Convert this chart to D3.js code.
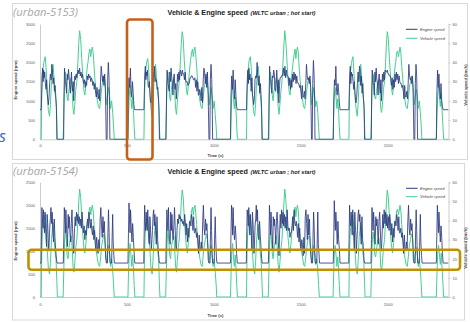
<!DOCTYPE html>
<html><head><meta charset="utf-8">
<script src="https://cdn.jsdelivr.net/npm/d3@7"></script>
<style>html,body{margin:0;padding:0;background:#fff;}svg{display:block;}</style>
</head><body>
<svg id="c" width="470" height="322"></svg>
<script>
// ---------------- DATA ----------------
const timeTicks = [0, 500, 1000, 1500, 2000];
const engineTicksTop = [0, 500, 1000, 1500, 2000, 2500, 3000];
const engineTicksBottom = [0, 500, 1000, 1500, 2000, 2500];
const speedTicks = [0, 10, 20, 30, 40, 50, 60];
const cycleStart = [0, 590, 1180, 1770]; // s, start of each urban repetition
const seriesNames = ["Engine speed", "Vehicle speed"];

// Vehicle speed (km/h): [time within repetition (s), speed]
const vehicleC1 = [[0,0],[7,0],[10,22],[14,34],[22,40],[30,43],[36,36],[42,24],[48,15],[55,12],[60,18],[66,30],[75,39],[80,33],[86,24],[92,20],[97,8],[100,0],[133,0],[137,14],[141,28],[146,35],[151,30],[156,22],[161,20],[166,25],[173,30],[180,32],[186,24],[190,16],[195,13],[200,18],[206,26],[212,30],[218,40],[223,50],[228,56.5],[234,52],[240,42],[247,32],[253,25],[258,23],[264,28],[270,36],[276,40],[282,45],[287,47],[292,43],[296,46],[301,48],[306,45],[311,38],[317,30],[324,24],[330,20],[336,17],[343,16],[349,21],[355,27],[361,30],[367,33],[373,31],[378,24],[383,18],[388,22],[394,27],[400,23],[406,16],[412,20],[418,14],[423,7],[427,0],[506,0],[509,12],[513,22],[518,28],[523,22],[528,16],[533,22],[538,14],[542,6],[546,0],[590,0]];
const vehicleC2 = [[0,0],[8,0],[11,21],[15,33],[23,40],[30,42],[36,35],[42,25],[48,16],[55,12],[60,19],[66,31],[75,39],[80,32],[86,25],[92,20],[97,7],[100,0],[133,0],[137,15],[141,28],[146,35],[151,29],[156,22],[161,20],[166,26],[173,30],[180,32],[186,23],[190,16],[195,13],[200,19],[206,26],[212,31],[218,41],[223,50],[228,56],[234,52],[240,41],[247,32],[253,25],[258,23],[264,29],[270,36],[276,41],[282,45],[287,47],[292,43],[296,46],[301,48],[306,44],[311,38],[317,30],[324,24],[330,20],[336,17],[343,16],[349,22],[355,27],[361,30],[367,33],[373,30],[378,24],[383,18],[388,22],[394,27],[400,22],[406,16],[412,20],[418,13],[423,7],[427,0],[506,0],[509,12],[513,23],[518,28],[523,21],[528,16],[533,22],[538,14],[542,6],[546,0],[590,0]];
const vehicleC3 = [[0,0],[8,0],[11,22],[15,34],[23,41],[30,43],[36,36],[42,24],[48,15],[55,12],[60,18],[66,30],[75,38],[80,33],[86,24],[92,19],[97,8],[100,0],[133,0],[137,14],[141,27],[146,35],[151,30],[156,23],[161,20],[166,25],[173,29],[180,32],[186,24],[190,17],[195,13],[200,18],[206,25],[212,30],[218,40],[223,49],[228,56.5],[234,51],[240,42],[247,31],[253,25],[258,23],[264,28],[270,35],[276,40],[282,44],[287,47],[292,42],[296,46],[301,48],[306,45],[311,37],[317,30],[324,24],[330,21],[336,17],[343,16],[349,21],[355,26],[361,30],[367,32],[373,31],[378,25],[383,18],[388,21],[394,27],[400,23],[406,17],[412,20],[418,14],[423,6],[427,0],[506,0],[509,11],[513,22],[518,27],[523,22],[528,16],[533,21],[538,14],[542,6],[546,0],[590,0]];
const vehicleC4 = [[0,0],[7,0],[10,21],[14,33],[22,40],[30,43],[36,35],[42,24],[48,16],[55,12],[60,18],[66,31],[75,39],[80,33],[86,24],[92,20],[97,8],[100,0],[133,0],[137,14],[141,28],[146,34],[151,30],[156,22],[161,21],[166,25],[173,30],[180,31],[186,24],[190,16],[195,14],[200,18],[206,26],[212,30],[218,40],[223,50],[228,56],[234,52],[240,42],[247,32],[253,26],[258,23],[264,28],[270,36],[276,40],[282,45],[287,46],[292,43],[296,45],[301,48],[306,45],[311,38],[317,31],[324,24],[330,20],[336,17],[343,16],[349,21],[355,27],[361,30],[367,33],[373,31],[378,24],[383,18],[388,22],[394,26],[400,23],[406,16],[412,20],[418,14],[423,7],[427,0],[510,0],[514,13],[518,23],[523,27],[528,22],[533,17],[538,23],[543,15],[548,7],[552,0],[580,0]];

// Engine speed (rpm), test urban-5153
const engineA1 = [[0,770],[7,770],[9,1100],[12,1650],[15,1850],[18,1500],[21,1800],[24,1600],[27,1750],[31,1450],[35,1300],[38,1550],[41,1200],[45,1050],[48,900],[52,1100],[56,1500],[60,1700],[64,1550],[68,1950],[72,1750],[75,1450],[79,1600],[83,1250],[87,1400],[91,1100],[95,800],[97,0],[136,0],[138,1100],[141,1850],[144,1600],[147,1500],[150,1350],[153,1200],[157,1700],[160,1550],[164,1820],[167,1650],[171,1400],[175,1200],[178,1500],[181,1750],[184,1450],[188,1250],[191,1500],[194,1000],[197,1350],[200,1650],[204,1550],[208,1700],[212,1600],[216,1750],[220,1800],[224,1700],[228,1850],[232,1650],[236,1750],[240,1600],[244,1700],[248,1550],[252,1450],[256,1550],[260,1350],[264,1500],[268,1400],[272,1650],[276,1550],[280,1700],[284,1600],[288,1650],[292,1500],[296,1600],[300,1550],[304,1400],[308,1500],[312,1300],[316,1450],[320,1200],[324,1100],[328,1350],[332,1150],[336,1050],[340,1300],[344,1000],[348,1500],[352,1900],[356,1700],[360,1500],[364,1650],[368,1400],[372,1700],[376,1300],[379,600],[381,0],[386,0],[389,1500],[393,2000],[397,1600],[400,900],[402,0],[505,0],[508,1100],[512,1600],[516,1350],[520,1850],[524,1300],[528,1100],[532,1500],[536,1200],[540,900],[544,770],[590,770]];
const engineA2 = [[0,770],[8,770],[10,1200],[13,1700],[16,1900],[19,1550],[22,1750],[25,1650],[28,1800],[32,1400],[35,1350],[39,1500],[42,1250],[45,1000],[49,950],[53,1150],[57,1450],[61,1750],[65,1500],[69,1900],[72,1700],[76,1500],[80,1550],[84,1300],[88,1350],[92,1050],[95,750],[97,0],[135,0],[138,1200],[141,1800],[144,1650],[147,1450],[151,1300],[154,1250],[157,1750],[161,1500],[164,1850],[168,1600],[171,1450],[175,1150],[178,1550],[182,1700],[185,1400],[188,1300],[191,1450],[194,1050],[198,1300],[201,1700],[205,1500],[209,1750],[213,1550],[217,1800],[221,1750],[225,1650],[229,1800],[233,1700],[237,1700],[241,1550],[245,1750],[249,1500],[253,1500],[257,1500],[261,1400],[265,1450],[269,1450],[273,1600],[277,1600],[281,1650],[285,1650],[289,1600],[293,1550],[297,1550],[301,1600],[305,1350],[309,1550],[313,1250],[317,1500],[321,1150],[325,1150],[329,1300],[333,1200],[337,1000],[341,1350],[345,950],[349,1550],[353,1850],[357,1750],[361,1450],[365,1700],[369,1350],[373,1750],[377,1250],[380,500],[382,0],[387,0],[390,1550],[394,1950],[398,1550],[401,850],[403,0],[506,0],[509,1150],[513,1650],[517,1300],[521,1800],[525,1350],[529,1050],[533,1550],[537,1150],[541,850],[545,770],[590,770]];
const engineA3 = [[0,770],[8,770],[10,1150],[13,1600],[16,1800],[19,1450],[22,1850],[25,1550],[28,1700],[32,1500],[35,1250],[39,1600],[42,1150],[45,1100],[49,900],[53,1050],[57,1550],[61,1650],[65,1600],[69,2000],[72,1700],[76,1400],[80,1650],[84,1200],[88,1450],[92,1100],[95,800],[97,0],[136,0],[138,1150],[141,1900],[144,1550],[147,1550],[151,1300],[154,1200],[157,1650],[161,1600],[164,1800],[168,1700],[171,1350],[175,1250],[178,1450],[182,1800],[185,1500],[188,1200],[191,1550],[194,950],[198,1400],[201,1600],[205,1600],[209,1650],[213,1650],[217,1700],[221,1850],[225,1650],[229,1900],[233,1600],[237,1800],[241,1650],[245,1650],[249,1600],[253,1400],[257,1600],[261,1300],[265,1550],[269,1350],[273,1700],[277,1500],[281,1750],[285,1550],[289,1700],[293,1450],[297,1650],[301,1500],[305,1450],[309,1450],[313,1350],[317,1400],[321,1250],[325,1050],[329,1400],[333,1100],[337,1100],[341,1250],[345,1050],[349,1450],[353,1950],[357,1650],[361,1550],[365,1600],[369,1450],[373,1650],[377,1350],[380,600],[382,0],[386,0],[389,1450],[393,2050],[397,1650],[400,950],[402,0],[507,0],[510,1050],[514,1550],[518,1400],[522,1900],[526,1250],[530,1150],[534,1450],[538,1250],[542,950],[546,770],[590,770]];
const engineA4 = [[0,770],[7,770],[9,1150],[12,1700],[15,1900],[18,1450],[21,1750],[24,1650],[27,1700],[31,1500],[35,1300],[38,1500],[41,1250],[45,1000],[48,950],[52,1100],[56,1450],[60,1750],[64,1500],[68,1900],[72,1800],[75,1400],[79,1650],[83,1200],[87,1450],[91,1050],[95,800],[97,0],[136,0],[138,1150],[141,1800],[144,1650],[147,1450],[150,1400],[153,1150],[157,1750],[160,1500],[164,1850],[167,1600],[171,1450],[175,1150],[178,1550],[181,1700],[184,1500],[188,1200],[191,1550],[194,1000],[197,1300],[200,1700],[204,1500],[208,1750],[212,1550],[216,1800],[220,1750],[224,1750],[228,1800],[232,1700],[236,1700],[240,1650],[244,1650],[248,1600],[252,1400],[256,1600],[260,1300],[264,1550],[268,1350],[272,1700],[276,1500],[280,1750],[284,1550],[288,1700],[292,1450],[296,1650],[300,1500],[304,1450],[308,1450],[312,1350],[316,1400],[320,1250],[324,1050],[328,1400],[332,1100],[336,1100],[340,1250],[344,1050],[348,1450],[352,1950],[356,1650],[360,1550],[364,1600],[368,1450],[372,1650],[376,1350],[379,600],[381,0],[386,0],[389,1450],[393,1950],[397,1650],[400,900],[402,0],[510,0],[513,1150],[517,1800],[521,1350],[525,1700],[529,1250],[533,1050],[537,1450],[541,1000],[545,850],[549,770],[580,770]];

// Engine speed (rpm), test urban-5154
const engineB1 = [[0,740],[6,740],[8,1200],[11,1950],[14,1700],[17,1500],[20,1900],[23,1600],[26,1400],[29,1850],[32,1500],[35,1250],[38,1100],[41,1800],[44,1600],[47,1300],[50,1000],[53,1200],[56,1500],[60,1750],[63,1950],[67,1600],[70,1850],[74,1400],[78,1200],[82,1700],[86,1300],[90,1050],[94,850],[98,740],[134,740],[137,1300],[140,1950],[143,1700],[146,1400],[149,1900],[152,1550],[155,1300],[158,1100],[162,1800],[165,1500],[169,1750],[172,1400],[176,1200],[180,1600],[184,1900],[187,1500],[191,1150],[194,950],[198,1400],[202,1750],[206,1550],[210,1850],[214,1650],[218,1800],[222,1600],[226,1750],[230,1550],[234,1700],[238,1500],[242,1850],[246,1600],[250,1400],[254,1550],[258,1250],[262,1450],[266,1350],[270,1600],[274,1700],[278,1500],[282,1850],[286,1650],[290,1500],[294,1700],[298,1450],[302,1350],[306,1550],[310,1250],[314,1450],[318,1150],[322,1000],[326,1300],[330,1100],[334,950],[338,1250],[342,1000],[346,1700],[350,1950],[354,1550],[358,1300],[362,1750],[366,1400],[370,1650],[374,1200],[378,850],[382,740],[388,740],[391,1400],[394,1900],[397,1500],[400,1000],[403,740],[412,740],[415,1300],[418,1800],[421,1200],[425,900],[428,740],[506,740],[509,1400],[512,2050],[515,1700],[518,1400],[521,1900],[525,1500],[529,1200],[533,1600],[537,1300],[541,1000],[545,740],[590,740]];
const engineB2 = [[0,740],[7,740],[9,1300],[12,2000],[15,1650],[18,1450],[21,1850],[24,1550],[27,1450],[30,1900],[33,1450],[36,1200],[39,1150],[42,1750],[45,1550],[48,1250],[51,1050],[54,1250],[57,1450],[61,1800],[64,1900],[68,1550],[71,1800],[75,1450],[79,1150],[83,1750],[87,1250],[91,1000],[95,800],[98,740],[134,740],[137,1350],[140,1900],[143,1650],[146,1450],[149,1950],[152,1500],[155,1250],[159,1150],[162,1850],[166,1450],[169,1800],[173,1350],[176,1250],[180,1550],[184,1950],[188,1450],[191,1100],[195,1000],[198,1450],[202,1700],[206,1600],[210,1800],[214,1700],[218,1750],[222,1650],[226,1700],[230,1600],[234,1650],[238,1550],[242,1800],[246,1650],[250,1350],[254,1600],[258,1200],[262,1500],[266,1300],[270,1650],[274,1650],[278,1550],[282,1800],[286,1700],[290,1450],[294,1750],[298,1400],[302,1400],[306,1500],[310,1300],[314,1400],[318,1200],[322,950],[326,1350],[330,1050],[334,1000],[338,1200],[342,1050],[346,1650],[350,2000],[354,1500],[358,1350],[362,1700],[366,1450],[370,1600],[374,1250],[378,800],[382,740],[388,740],[391,1450],[394,1950],[397,1450],[400,950],[403,740],[412,740],[415,1350],[418,1750],[421,1250],[425,850],[428,740],[506,740],[509,1450],[512,2000],[515,1750],[518,1350],[521,1950],[525,1450],[529,1250],[533,1550],[537,1350],[541,950],[545,740],[590,740]];
const engineB3 = [[0,740],[7,740],[9,1250],[12,1900],[15,1750],[18,1550],[21,1950],[24,1650],[27,1350],[30,1800],[33,1550],[36,1300],[39,1050],[42,1850],[45,1650],[48,1350],[51,950],[54,1150],[57,1550],[61,1700],[64,2000],[68,1650],[71,1900],[75,1350],[79,1250],[83,1650],[87,1350],[91,1100],[95,850],[98,740],[134,740],[137,1250],[140,2000],[143,1750],[146,1350],[149,1850],[152,1600],[155,1350],[159,1050],[162,1750],[166,1550],[169,1700],[173,1450],[176,1150],[180,1650],[184,1850],[188,1550],[191,1200],[195,900],[198,1350],[202,1800],[206,1500],[210,1900],[214,1600],[218,1850],[222,1550],[226,1800],[230,1500],[234,1750],[238,1450],[242,1900],[246,1550],[250,1450],[254,1500],[258,1300],[262,1400],[266,1400],[270,1550],[274,1750],[278,1450],[282,1900],[286,1600],[290,1550],[294,1650],[298,1500],[302,1300],[306,1600],[310,1200],[314,1500],[318,1100],[322,1050],[326,1250],[330,1150],[334,900],[338,1300],[342,950],[346,1750],[350,1900],[354,1600],[358,1250],[362,1800],[366,1350],[370,1700],[374,1150],[378,900],[382,740],[388,740],[391,1350],[394,1850],[397,1550],[400,1050],[403,740],[412,740],[415,1250],[418,1850],[421,1150],[425,950],[428,740],[507,740],[510,1350],[513,2100],[516,1650],[519,1450],[522,1850],[526,1550],[530,1150],[534,1650],[538,1250],[542,1050],[546,740],[590,740]];
const engineB4 = [[0,740],[6,740],[8,1250],[11,2000],[14,1650],[17,1550],[20,1850],[23,1650],[26,1350],[29,1900],[32,1450],[35,1300],[38,1050],[41,1850],[44,1550],[47,1350],[50,950],[53,1250],[56,1450],[60,1800],[63,1900],[67,1650],[70,1800],[74,1450],[78,1150],[82,1750],[86,1250],[90,1100],[94,800],[98,740],[134,740],[137,1250],[140,1950],[143,1650],[146,1450],[149,1850],[152,1600],[155,1250],[158,1150],[162,1750],[165,1550],[169,1700],[172,1450],[176,1150],[180,1650],[184,1850],[187,1550],[191,1100],[194,1000],[198,1350],[202,1800],[206,1500],[210,1900],[214,1600],[218,1850],[222,1550],[226,1800],[230,1500],[234,1750],[238,1450],[242,1800],[246,1650],[250,1350],[254,1600],[258,1200],[262,1500],[266,1300],[270,1650],[274,1650],[278,1550],[282,1800],[286,1700],[290,1450],[294,1750],[298,1400],[302,1400],[306,1500],[310,1300],[314,1400],[318,1200],[322,950],[326,1350],[330,1050],[334,1000],[338,1200],[342,1050],[346,1650],[350,2000],[354,1500],[358,1350],[362,1700],[366,1450],[370,1600],[374,1250],[378,800],[382,740],[388,740],[391,1450],[394,1900],[397,1450],[400,1000],[403,740],[412,740],[415,1300],[418,1800],[421,1200],[425,900],[428,740],[510,740],[513,1400],[516,2000],[519,1700],[522,1400],[525,1850],[529,1500],[533,1200],[537,1550],[541,1300],[545,950],[549,740],[580,740]];

const vehicleCycles = [vehicleC1, vehicleC2, vehicleC3, vehicleC4];
const engineCyclesA = [engineA1, engineA2, engineA3, engineA4];
const engineCyclesB = [engineB1, engineB2, engineB3, engineB4];

// ---------------- DRAW ----------------
const svg = d3.select("#c");
const FONT = "'Liberation Sans', Arial, sans-serif";
const NAVY = "#2b3b80", GREEN = "#45cf91", AXIS = "#bfbfbf", TXT = "#595959";

function joinCycles(cycles){
  return cycles.flatMap((c, i) => c.map(d => ({t: d[0] + cycleStart[i], v: d[1]})));
}

const x = d3.scaleLinear().domain([0, 2350]).range([40, 448.5]);
const fmt = d3.format("d");

const charts = [
  {name:"(urban-5153)", frame:[12.5,3.5,455,156], y0:139.3, y1:24, eMax:3000, eTicks:engineTicksTop,
   engine:joinCycles(engineCyclesA), nameY:15.5, titleY:14.5, legY:[29.3,38.3], timeY:157.3, tickY:147.3, lTitleCY:80, rTitleCY:85},
  {name:"(urban-5154)", frame:[12.5,163.5,452,156.5], y0:297, y1:182.3, eMax:2500, eTicks:engineTicksBottom,
   engine:joinCycles(engineCyclesB), nameY:174.5, titleY:173.7, legY:[188.3,196.7], timeY:316.8, tickY:306.3, lTitleCY:241, rTitleCY:248}
];
const vehicle = joinCycles(vehicleCycles);

charts.forEach((c, ci) => {
  const g = svg.append("g");
  g.append("rect").attr("x", c.frame[0]).attr("y", c.frame[1]).attr("width", c.frame[2]).attr("height", c.frame[3])
    .attr("fill", "#fff").attr("stroke", "#d9d9d9").attr("stroke-width", 1);

  const yE = d3.scaleLinear().domain([0, c.eMax]).range([c.y0, c.y1]);
  const yV = d3.scaleLinear().domain([0, 60]).range([c.y0, c.y1]);

  // axes
  const axL = g.append("g").attr("transform", `translate(40,0)`)
    .call(d3.axisLeft(yE).tickValues(c.eTicks).tickFormat(fmt).tickSize(0).tickPadding(5));
  const axR = g.append("g").attr("transform", `translate(448.5,0)`)
    .call(d3.axisRight(yV).tickValues(speedTicks).tickFormat(fmt).tickSize(2).tickPadding(2));
  const axB = g.append("g").attr("transform", `translate(0,${c.y0})`)
    .call(d3.axisBottom(x).tickValues(timeTicks).tickFormat(fmt).tickSize(0).tickPadding(6));
  [axL, axR, axB].forEach(a => {
    a.select(".domain").attr("stroke", AXIS).attr("stroke-width", 0.8);
    a.selectAll(".tick line").attr("stroke", AXIS).attr("stroke-width", 0.6);
    a.selectAll("text").attr("font-family", FONT).attr("font-size", 4).attr("fill", TXT);
  });
  axB.selectAll("text").attr("dy", null).attr("y", c.tickY - c.y0);

  // series
  const clipId = "clip" + ci;
  g.append("clipPath").attr("id", clipId).append("rect")
    .attr("x", 40).attr("y", c.y1 - 5).attr("width", 408.5).attr("height", c.y0 - c.y1 + 5.5);
  const lineE = d3.line().x(d => x(d.t)).y(d => yE(d.v));
  const lineV = d3.line().x(d => x(d.t)).y(d => yV(d.v));
  g.append("path").datum(vehicle).attr("d", lineV).attr("fill", "none")
    .attr("stroke", GREEN).attr("stroke-width", 1).attr("clip-path", `url(#${clipId})`);
  g.append("path").datum(c.engine).attr("d", lineE).attr("fill", "none")
    .attr("stroke", NAVY).attr("stroke-width", 0.9).attr("stroke-opacity", 0.95).attr("clip-path", `url(#${clipId})`);

  // titles
  g.append("text").attr("x", 13).attr("y", c.nameY).text(c.name)
    .attr("font-family", "'Open Sans', sans-serif").attr("font-style", "italic").attr("font-size", 11)
    .attr("fill", "#a6a6a6").attr("textLength", 65).attr("lengthAdjust", "spacingAndGlyphs");
  g.append("text").attr("x", 167.5).attr("y", c.titleY).text("Vehicle & Engine speed")
    .attr("font-family", FONT).attr("font-weight", "bold").attr("font-size", 6.8).attr("fill", "#1a1a1a")
    .attr("textLength", 80.5).attr("lengthAdjust", "spacingAndGlyphs");
  g.append("text").attr("x", 250.5).attr("y", c.titleY).text("(WLTC urban ; hot start)")
    .attr("font-family", FONT).attr("font-weight", "bold").attr("font-style", "italic").attr("font-size", 5.2).attr("fill", "#1a1a1a")
    .attr("textLength", 65).attr("lengthAdjust", "spacingAndGlyphs");

  // axis titles
  g.append("text").attr("transform", `translate(17,${c.lTitleCY}) rotate(-90)`).attr("text-anchor", "middle")
    .text("Engine speed (rpm)").attr("font-family", FONT).attr("font-weight", "bold").attr("font-size", 4.2).attr("fill", "#404040");
  g.append("text").attr("transform", `translate(467,${c.rTitleCY}) rotate(-90)`).attr("text-anchor", "middle")
    .text("Vehicle speed (km/h)").attr("font-family", FONT).attr("font-weight", "bold").attr("font-size", 4.2).attr("fill", "#404040");
  g.append("text").attr("x", 215.5).attr("y", c.timeY).attr("text-anchor", "middle")
    .text("Time (s)").attr("font-family", FONT).attr("font-weight", "bold").attr("font-size", 4.2).attr("fill", "#404040");

  // legend
  const cols = [NAVY, GREEN];
  seriesNames.forEach((n, i) => {
    const ly = c.legY[i];
    g.append("line").attr("x1", 406).attr("x2", 417.5).attr("y1", ly).attr("y2", ly)
      .attr("stroke", cols[i]).attr("stroke-width", 1);
    g.append("text").attr("x", 420).attr("y", ly + 1.4).text(n)
      .attr("font-family", FONT).attr("font-style", "italic").attr("font-size", 4).attr("fill", "#404040");
  });
});

// annotation boxes
svg.append("rect").attr("x", 127).attr("y", 19.5).attr("width", 25.5).attr("height", 140).attr("rx", 3)
  .attr("fill", "none").attr("stroke", "#c5601c").attr("stroke-width", 2.6);
svg.append("rect").attr("x", 28.5).attr("y", 249.8).attr("width", 431.5).attr("height", 20).attr("rx", 3)
  .attr("fill", "none").attr("stroke", "#bf9000").attr("stroke-width", 2.6);

// cut-off text at left edge
svg.append("text").attr("x", -1).attr("y", 142).text("s")
  .attr("font-family", "'Open Sans', sans-serif").attr("font-style", "italic").attr("font-size", 16).attr("fill", "#2f6fbf");
</script>
</body></html>
